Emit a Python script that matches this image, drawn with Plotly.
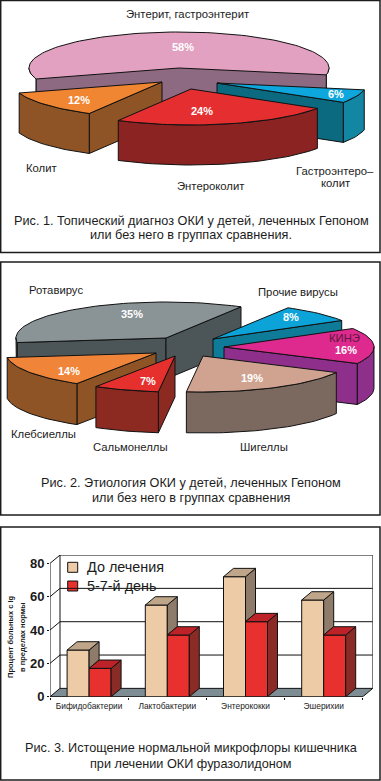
import math
import plotly.graph_objects as go

# ---------- data ----------
pie1_names = ["Гастроэнтероколит", "Энтероколит", "Колит", "Энтерит, гастроэнтерит"]
pie1_values = [6, 24, 12, 58]
pie2_names = ["Прочие вирусы", "КИНЭ", "Шигеллы", "Сальмонеллы", "Клебсиеллы", "Ротавирус"]
pie2_values = [8, 16, 19, 7, 14, 35]
bar_categories = ["Бифидобактерии", "Лактобактерии", "Энтерококки", "Эшерихии"]
bar_before = [28, 55, 72, 58]
bar_after = [17, 37, 45, 37]
bar_series = ["До лечения", "5-7-й день"]
y_ticks = [0, 20, 40, 60, 80]

FONT = "Liberation Sans, Arial, sans-serif"
INK = "#1c1c1c"
RX, RY = 150, 36

fig = go.Figure()


def poly(xs, ys, fill, xa="x", ya="y", width=1):
    fig.add_trace(go.Scatter(x=xs, y=ys, mode="lines", fill="toself", fillcolor=fill,
                             line=dict(color="#111111", width=width), xaxis=xa, yaxis=ya,
                             hoverinfo="skip", showlegend=False))


def pie(values, start_deg, depth, styles, draw_order):
    """Exploded 3-D wedges projected on an ellipse; angles come from the values."""
    total = sum(values)
    angle = start_deg
    spans = []
    for v in values:
        spans.append((angle, angle + 360.0 * v / total))
        angle = spans[-1][1]
    for i in draw_order:
        a0, a1 = spans[i]
        cx, cy, top, inner, outer = styles[i]
        n = max(4, int((a1 - a0) / 2))
        angs = [math.radians(a0 + (a1 - a0) * k / n) for k in range(n + 1)]
        ex = [cx + RX * math.cos(t) for t in angs]
        ey = [cy + RY * math.sin(t) for t in angs]
        if math.cos(math.radians(a0)) < 0:
            poly([cx, ex[0], ex[0], cx, cx], [cy, ey[0], ey[0] + depth, cy + depth, cy], inner)
        if math.cos(math.radians(a1)) > 0:
            poly([cx, ex[-1], ex[-1], cx, cx], [cy, ey[-1], ey[-1] + depth, cy + depth, cy], inner)
        rim = [(x, y) for x, y, t in zip(ex, ey, angs) if math.sin(t) >= -0.02]
        if rim:
            xs = [p[0] for p in rim] + [p[0] for p in rim[::-1]]
            ys = [p[1] for p in rim] + [p[1] + depth for p in rim[::-1]]
            poly(xs + xs[:1], ys + ys[:1], outer)
        poly([cx] + ex + [cx], [cy] + ey + [cy], top)


# ---------- pies ----------
pie1_styles = [
    (217, 83, "#0DA6DD", "#0B6A80", "#1386A3"),
    (191, 89, "#E52E2F", "#8A2322", "#8A2322"),
    (162, 82, "#F08532", "#8E5425", "#8E5425"),
    (179, 68, "#E3A1C1", "#8D6A82", "#8D6A82"),
]
pie(pie1_values, 11, 40, pie1_styles, [3, 0, 2, 1])

pie2_styles = [
    (213, 339, "#0CA3D9", "#0E7C98", "#0E7C98"),
    (224, 347, "#DE2A8E", "#8E2F8C", "#8E2F8C"),
    (203, 356, "#CFA390", "#7B685E", "#7B685E"),
    (175, 356, "#E5302E", "#8C2A22", "#8C2A22"),
    (156, 353, "#F0853A", "#8E5425", "#8E5425"),
    (166, 338, "#8A9396", "#4C5658", "#4C5658"),
]
pie(pie2_values, 300, 41, pie2_styles, [5, 0, 1, 2, 4, 3])

# ---------- bars ----------
PX_PER_CAT = 78.2
W = 22 / PX_PER_CAT
DX = 10 / PX_PER_CAT
DY = 5
idx = list(range(len(bar_categories)))

fig.add_trace(go.Bar(x=[i - W / 2 for i in idx], y=bar_before, width=W, name=bar_series[0],
                     marker=dict(color="#EDCBA6", line=dict(color="#111111", width=1)),
                     xaxis="x2", yaxis="y2", showlegend=False, hoverinfo="skip"))
fig.add_trace(go.Bar(x=[i + W / 2 for i in idx], y=bar_after, width=W, name=bar_series[1],
                     marker=dict(color="#E8302E", line=dict(color="#111111", width=1)),
                     xaxis="x2", yaxis="y2", showlegend=False, hoverinfo="skip"))

for i, t, r in zip(idx, bar_before, bar_after):
    l, m, h = i - W, i, i + W
    poly([m, m, m + DX, m + DX, m], [r, t, t + DY, r + DY, r], "#8E7B6A", "x2", "y2")
    poly([l, m, m + DX, l + DX, l], [t, t, t + DY, t + DY, t], "#BFA68A", "x2", "y2")
    poly([h, h, h + DX, h + DX, h], [0, r, r + DY, DY, 0], "#8A2B25", "x2", "y2")
    poly([m, h, h + DX, m + DX, m], [r, r, r + DY, r + DY, r], "#BC2228", "x2", "y2")

# ---------- wall, floor, grid ----------
x_lo, x_hi = -0.5, 3.5
shapes = []
wall = lambda x0, y0, x1, y1: dict(type="line", xref="x2", yref="y2", layer="below",
                                   x0=x0, y0=y0, x1=x1, y1=y1,
                                   line=dict(color="#111111", width=1))
shapes.append(dict(type="path", xref="x2", yref="y2", layer="below",
                   path=f"M{x_lo},0 L{x_lo + DX},{DY} L{x_hi + DX},{DY} L{x_hi},0 Z",
                   fillcolor="#7E8C94", line=dict(color="#111111", width=1)))
shapes.append(wall(x_lo + DX, DY, x_lo + DX, 80 + DY))
shapes.append(wall(x_hi + DX, DY, x_hi + DX, 80 + DY))
shapes.append(wall(x_lo, 0, x_lo, 80))
shapes.append(wall(x_lo, 0, x_hi, 0))
for v in y_ticks[1:]:
    shapes.append(wall(x_lo, v, x_lo + DX, v + DY))
    shapes.append(wall(x_lo + DX, v + DY, x_hi + DX, v + DY))
shapes.append(dict(type="rect", xref="x", yref="y", layer="below", x0=61, x1=167, y0=556, y1=597,
                   fillcolor="#FFFFFF", line=dict(width=0)))
for y0, y1 in [(0.5, 252.5), (262, 515), (527, 780)]:
    shapes.append(dict(type="rect", xref="x", yref="y", layer="below", x0=0.7, x1=380, y0=y0, y1=y1,
                       fillcolor="rgba(0,0,0,0)", line=dict(color=INK, width=1.5)))

fig.add_trace(go.Scatter(x=[72.7], y=[567.3], mode="markers", hoverinfo="skip", showlegend=False,
                         marker=dict(symbol="square", size=10, color="#EDCBA6",
                                     line=dict(color="#111111", width=1))))
fig.add_trace(go.Scatter(x=[72.7], y=[586], mode="markers", hoverinfo="skip", showlegend=False,
                         marker=dict(symbol="square", size=10, color="#E8302E",
                                     line=dict(color="#111111", width=1))))

# ---------- text ----------
ann = []


def text(x, y, s, size=11.3, color=INK, bold=False, anchor="center", angle=0):
    ann.append(dict(x=x, y=y, xref="x", yref="y", text=f"<b>{s}</b>" if bold else s, showarrow=False,
                    xanchor=anchor, yanchor="middle", textangle=angle,
                    font=dict(family=FONT, size=size, color=color)))


names1 = [(187, 14, pie1_names[3]), (41, 168, pie1_names[2]), (210, 186, pie1_names[1]),
          (335, 171, "Гастроэнтеро–"), (335, 183, "колит")]
names2 = [(56, 290, pie2_names[5]), (298, 292, pie2_names[0]), (43, 434, pie2_names[4]),
          (130, 447, pie2_names[3]), (264, 447, pie2_names[2])]
for x, y, s in names1 + names2:
    text(x, y, s)
text(344, 338, pie2_names[1], 11.3, "#5A1A3C")

pct1 = [(336, 94), (202, 111), (79, 100), (183, 47)]
pct2 = [(291, 317), (346, 350), (252, 378), (148, 381), (69, 371), (132, 314)]
for (x, y), v in zip(pct1, pie1_values):
    text(x, y, f"{v}%", 11, "#FFFFFF", True)
for (x, y), v in zip(pct2, pie2_values):
    text(x, y, f"{v}%", 11, "#FFFFFF", True)

captions = [
    (191, 221, "Рис. 1. Топический диагноз ОКИ у детей, леченных Гепоном"),
    (191, 235, "или без него в группах сравнения."),
    (191, 483, "Рис. 2. Этиология ОКИ у детей, леченных Гепоном"),
    (191, 498, "или без него в группах сравнения"),
    (191, 748, "Рис. 3. Истощение нормальной микрофлоры кишечника"),
    (191, 764, "при лечении ОКИ фуразолидоном"),
]
for x, y, s in captions:
    text(x, y, s, 12.7)

text(85, 567.3, bar_series[0], 14.4, anchor="left")
text(85, 586, bar_series[1], 14.4, anchor="left")
text(10, 637, "<b>Процент больных с lg</b>", 7.5, angle=-90)
text(22, 637, "<b>в пределах нормы</b>", 7.5, angle=-90)

# ---------- layout ----------
W_PX, H_PX = 381, 781
x2_px = (50, 50 + (x_hi + DX - x_lo) * PX_PER_CAT)
y_per = 5 / 3.0
y2_px = (696.7, 696.7 - (80 + DY) * y_per)
fig.update_layout(
    width=W_PX, height=H_PX, margin=dict(l=0, r=0, t=0, b=0, autoexpand=False),
    paper_bgcolor="#FFFFFF", plot_bgcolor="rgba(0,0,0,0)", showlegend=False,
    barmode="overlay", shapes=shapes, annotations=ann,
    xaxis=dict(range=[0, W_PX], domain=[0, 1], visible=False, fixedrange=True, automargin=False),
    yaxis=dict(range=[H_PX, 0], domain=[0, 1], visible=False, fixedrange=True, automargin=False),
    xaxis2=dict(range=[x_lo, x_hi + DX], domain=[x2_px[0] / W_PX, x2_px[1] / W_PX], anchor="y2",
                tickvals=idx, ticktext=bar_categories, ticks="", showgrid=False, zeroline=False,
                showline=False, fixedrange=True, automargin=False, ticklabelstandoff=3,
                tickfont=dict(family=FONT, size=8.4, color="#222222"),
                minor=dict(tickvals=[x_lo + k for k in range(5)], ticks="outside", ticklen=2,
                           tickcolor="#111111", tickwidth=1, showgrid=False)),
    yaxis2=dict(range=[0, 80 + DY], domain=[1 - y2_px[0] / H_PX, 1 - y2_px[1] / H_PX], anchor="x2",
                tickvals=y_ticks, ticks="outside", ticklen=2, tickcolor="#111111", showgrid=False,
                zeroline=False, showline=False, fixedrange=True, automargin=False,
                tickfont=dict(family=FONT, size=13, color="#1a1a1a", weight="bold")),
)

fig.write_html("out.html", config=dict(displayModeBar=False),
               post_script="document.body.style.margin='0';")
